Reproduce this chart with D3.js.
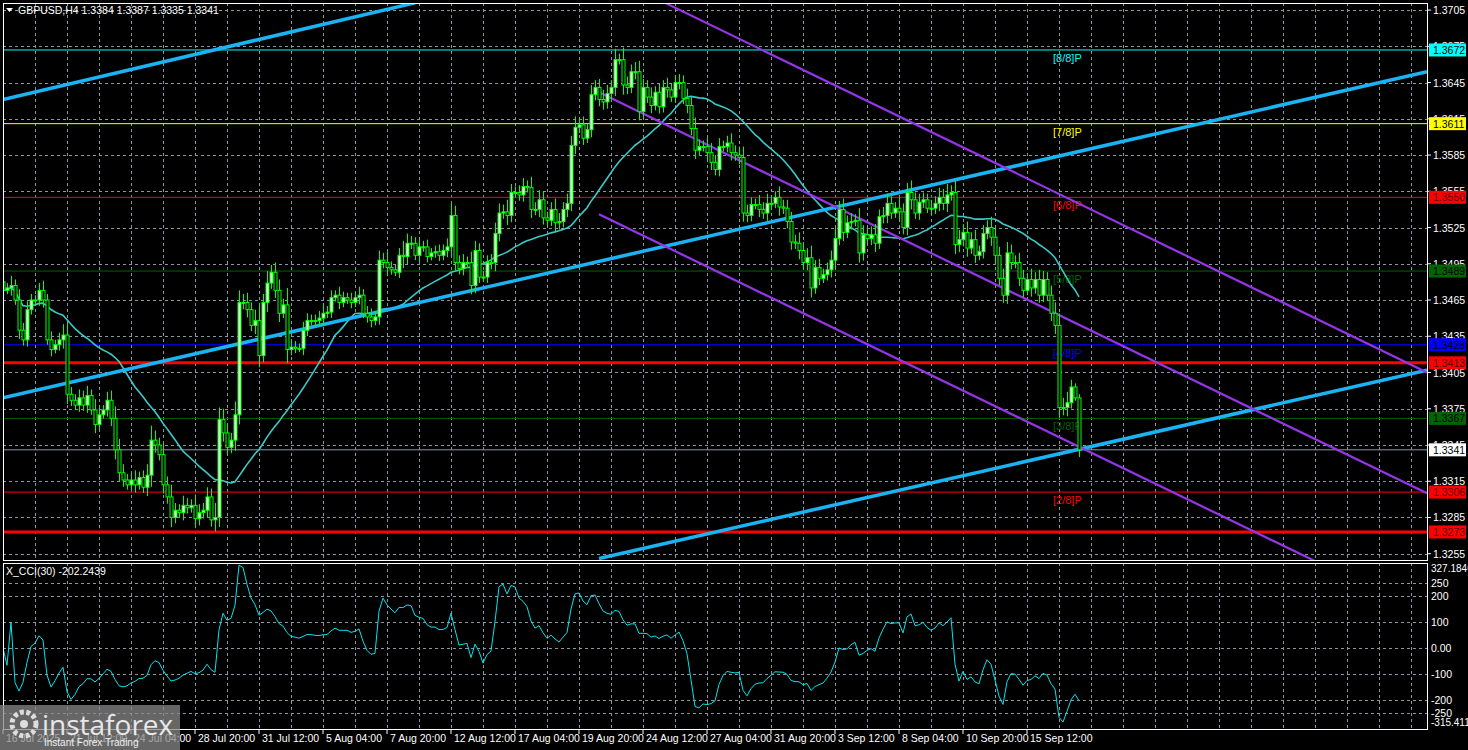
<!DOCTYPE html>
<html>
<head>
<meta charset="utf-8">
<script src="https://cdn.jsdelivr.net/npm/d3@7"></script>
<style>
  body { margin: 0; background: #000; }
  svg { display: block; font-family: "Liberation Sans", Arial, sans-serif; }
</style>
</head>
<body>
<div id="chart"></div>
<script>
// H4 closes (bar 0 = left edge)
const closes = [
  1.3473,1.3475,1.3477,1.3465,1.3440,1.3432,1.3457,1.3465,1.3465,1.3473,
  1.3465,1.3432,1.3424,1.3428,1.3432,1.3436,1.3387,1.3382,1.3378,1.3384,
  1.3378,1.3386,1.3374,1.3362,1.3370,1.3374,1.3382,1.3367,1.3341,1.3322,
  1.3316,1.3312,1.3316,1.3312,1.3318,1.3310,1.3320,1.3349,1.3345,1.3337,
  1.3312,1.3302,1.3285,1.3291,1.3289,1.3295,1.3293,1.3295,1.3284,1.3289,
  1.3291,1.3302,1.3283,1.3285,1.3366,1.3355,1.3343,1.3349,1.3370,1.3463,
  1.3463,1.3457,1.3444,1.3448,1.3419,1.3463,1.3479,1.3488,1.3473,1.3454,
  1.3461,1.3424,1.3426,1.3425,1.3425,1.3440,1.3448,1.3448,1.3448,1.3450,
  1.3454,1.3455,1.3467,1.3469,1.3463,1.3467,1.3465,1.3463,1.3467,1.3469,
  1.3454,1.3451,1.3448,1.3451,1.3498,1.3496,1.3492,1.3490,1.3488,1.3502,
  1.3501,1.3512,1.3512,1.3502,1.3509,1.3509,1.3501,1.3504,1.3505,1.3502,
  1.3506,1.3509,1.3535,1.3496,1.3491,1.3496,1.3496,1.3477,1.3506,1.3484,
  1.3484,1.3496,1.3496,1.3520,1.3537,1.3538,1.3535,1.3554,1.3554,1.3552,
  1.3559,1.3558,1.3540,1.3540,1.3548,1.3533,1.3531,1.3540,1.3529,1.3530,
  1.3540,1.3545,1.3593,1.3608,1.3610,1.3599,1.3606,1.3635,1.3641,1.3631,
  1.3629,1.3636,1.3641,1.3664,1.3664,1.3643,1.3641,1.3654,1.3654,1.3621,
  1.3641,1.3633,1.3626,1.3637,1.3625,1.3641,1.3639,1.3633,1.3645,1.3645,
  1.3632,1.3626,1.3607,1.3589,1.3592,1.3592,1.3587,1.3579,1.3573,1.3592,
  1.3592,1.3595,1.3587,1.3585,1.3583,1.3537,1.3535,1.3544,1.3544,1.3540,
  1.3537,1.3545,1.3545,1.3550,1.3542,1.3541,1.3530,1.3513,1.3512,1.3506,
  1.3496,1.3500,1.3475,1.3492,1.3483,1.3486,1.3490,1.3498,1.3516,1.3540,
  1.3521,1.3529,1.3530,1.3531,1.3504,1.3519,1.3516,1.3519,1.3512,1.3534,
  1.3535,1.3545,1.3537,1.3541,1.3538,1.3525,1.3554,1.3548,1.3537,1.3546,
  1.3548,1.3541,1.3541,1.3545,1.3550,1.3545,1.3552,1.3554,1.3511,1.3515,
  1.3521,1.3508,1.3515,1.3502,1.3505,1.3520,1.3525,1.3517,1.3502,1.3483,
  1.3469,1.3504,1.3496,1.3496,1.3483,1.3473,1.3482,1.3475,1.3482,1.3469,
  1.3482,1.3469,1.3454,1.3444,1.3376,1.3376,1.3380,1.3393,1.3384,1.3341
];
// wick length beyond the body, pips
const wicks = [
  6,4,8,5,9,6,7,5,4,6, 8,5,7,4,6,9,10,6,5,7, 6,8,5,9,6,4,7,8,10,9,
  7,5,6,8,5,6,9,12,8,6, 9,7,10,6,5,8,6,5,9,7, 6,8,7,12,10,9,8,6,11,10,
  7,8,6,9,12,7,10,6,8,9, 5,14,6,5,4,7,6,5,5,6, 8,5,6,4,7,5,4,6,5,7,
  5,6,7,5,8,6,9,5,4,6, 12,8,6,5,7,5,6,4,5,6, 5,7,10,8,6,7,5,9,8,6,
  5,6,7,9,8,6,10,7,5,6, 7,5,9,6,8,7,5,6,9,7, 6,8,8,9,6,7,5,8,6,7,
  8,7,6,9,5,10,7,6,8,9, 7,6,8,5,7,6,8,5,6,7, 6,8,7,9,6,5,7,8,6,7,
  5,6,8,6,7,9,7,6,5,8, 6,8,7,5,9,6,7,8,6,9, 7,8,10,6,7,5,6,8,9,7,
  9,6,7,5,10,8,6,7,9,6, 7,8,6,5,9,7,8,10,6,7, 6,5,7,6,8,7,9,6,10,8,
  7,9,6,8,5,7,6,9,8,7, 8,9,7,6,8,7,5,9,6,8, 7,6,8,9,10,8,9,6,3,4
];
const firstOpen = 1.3480;

const timeLabels = ["16 Jul 2025","21 Jul 12:00","24 Jul 04:00","28 Jul 20:00","31 Jul 12:00",
  "5 Aug 04:00","7 Aug 20:00","12 Aug 12:00","17 Aug 04:00","19 Aug 20:00","24 Aug 12:00",
  "27 Aug 04:00","31 Aug 20:00","3 Sep 12:00","8 Sep 04:00","10 Sep 20:00","15 Sep 12:00"];
const priceTicks = [1.3705,1.3675,1.3645,1.3615,1.3585,1.3555,1.3525,1.3495,1.3465,1.3435,
  1.3405,1.3375,1.3345,1.3315,1.3285,1.3255];
const cciTicks = [250,200,100,0,-100,-200,-250];

// murrey levels: price, colour, label, line width, box text colour
const levels = [
  {p:1.3672, c:"#00ffff", lab:"[8/8]P", w:1, t:"#000"},
  {p:1.3611, c:"#ffff00", lab:"[7/8]P", w:1, t:"#000"},
  {p:1.3550, c:"#ff0000", lab:"[6/8]P", w:1, t:"#500"},
  {p:1.3489, c:"#006400", lab:"[5/8]P", w:1, t:"#000"},
  {p:1.3428, c:"#0000ff", lab:"[4/8]P", w:1, t:"#000"},
  {p:1.3413, c:"#ff0000", lab:null, w:3, t:"#500"},
  {p:1.3367, c:"#006400", lab:"[3/8]P", w:1, t:"#000"},
  {p:1.3306, c:"#ff0000", lab:"[2/8]P", w:1, t:"#500"},
  {p:1.3273, c:"#ff0000", lab:null, w:3, t:"#500"}
];
// channel lines as [bar, price] pairs
const blueLines = [[[0,1.3384],[356,1.3654]],[[0,1.3631],[103,1.3711]],[[149,1.3251],[356,1.3407]]];
const purpleLines = [[[165.5,1.3711],[356,1.3405]],[[149,1.3637],[356,1.3305]],[[149,1.3536],[356,1.3204]]];

const W = 1468, H = 750;
const L = 3, R = 1427, mainTop = 3, mainBot = 560, cciTop = 563, cciBot = 729;

const bars = closes.map((c, i) => {
  const o = i ? closes[i-1] : firstOpen;
  const w = wicks[i] / 10000;
  return {i, o, c, h: Math.max(o, c) + w, l: Math.min(o, c) - w * 0.8};
});
bars[bars.length-1].h = 1.3387; bars[bars.length-1].l = 1.3335;

const x = d3.scaleLinear().domain([0, 1]).range([3, 7]);
const y = d3.scaleLinear().domain([1.3255, 1.3705]).range([553.7, 10.1]);
const yc = d3.scaleLinear().domain([-315.4116, 327.1846]).range([729.5, 563.5]);

const svg = d3.select("#chart").append("svg").attr("width", W).attr("height", H)
  .style("background", "#000");

svg.append("clipPath").attr("id", "cm").append("rect")
  .attr("x", L).attr("y", mainTop).attr("width", R - L).attr("height", mainBot - mainTop);
svg.append("clipPath").attr("id", "cc").append("rect")
  .attr("x", L).attr("y", cciTop).attr("width", R - L).attr("height", cciBot - cciTop);

// grids
const grid = svg.append("g").attr("stroke", "#8a96a6").attr("stroke-dasharray", "3,3").attr("stroke-width", 1);
for (let i = 8; i * 4 + 3 < R; i += 8) {
  const gx = Math.round(x(i)) + 0.5;
  grid.append("line").attr("x1", gx).attr("x2", gx).attr("y1", mainTop).attr("y2", mainBot);
  grid.append("line").attr("x1", gx).attr("x2", gx).attr("y1", cciTop).attr("y2", cciBot);
}
priceTicks.forEach(p => {
  const gy = Math.round(y(p)) + 0.5;
  grid.append("line").attr("x1", L).attr("x2", R).attr("y1", gy).attr("y2", gy);
});
cciTicks.forEach(v => {
  const gy = Math.round(yc(v)) + 0.5;
  grid.append("line").attr("x1", L).attr("x2", R).attr("y1", gy).attr("y2", gy);
});

const main = svg.append("g").attr("clip-path", "url(#cm)");

// levels
levels.forEach(d => {
  main.append("line").attr("x1", L).attr("x2", R).attr("y1", y(d.p)).attr("y2", y(d.p))
    .attr("stroke", d.c).attr("stroke-width", d.w);
  if (d.lab) main.append("text").attr("x", 1053).attr("y", y(d.p) + 12)
    .attr("fill", d.c).attr("font-size", 11).text(d.lab);
});
// current price line
main.append("line").attr("x1", L).attr("x2", R).attr("y1", y(1.3341)).attr("y2", y(1.3341))
  .attr("stroke", "#8899aa").attr("stroke-width", 1);

// moving average (SMA 30 of closes)
const maPer = 30;
const ma = bars.map((b, i) => {
  const s = closes.slice(Math.max(0, i - maPer + 1), i + 1);
  return [i, d3.mean(s)];
});
main.append("path").datum(ma)
  .attr("d", d3.line().x(d => x(d[0])).y(d => y(d[1])))
  .attr("fill", "none").attr("stroke", "#3cc8c8").attr("stroke-width", 1.6);

// channels
const seg = d3.line().x(d => x(d[0])).y(d => y(d[1]));
blueLines.forEach(l => main.append("path").attr("d", seg(l))
  .attr("stroke", "#1ab4f5").attr("stroke-width", 3.5).attr("fill", "none"));
purpleLines.forEach(l => main.append("path").attr("d", seg(l))
  .attr("stroke", "#9535e8").attr("stroke-width", 2.2).attr("fill", "none"));

// candles
const cg = main.append("g");
cg.selectAll("line.w").data(bars).join("line")
  .attr("x1", d => x(d.i) + 0.5).attr("x2", d => x(d.i) + 0.5)
  .attr("y1", d => y(d.h)).attr("y2", d => y(d.l))
  .attr("stroke", "#00ff00").attr("stroke-width", 1);
cg.selectAll("rect").data(bars).join("rect")
  .attr("x", d => x(d.i) - 1)
  .attr("y", d => y(Math.max(d.o, d.c)))
  .attr("width", 3)
  .attr("height", d => Math.max(1, Math.abs(y(d.o) - y(d.c))))
  .attr("fill", d => d.c >= d.o ? "#e6ffe0" : "#000")
  .attr("stroke", "#00ff00").attr("stroke-width", 1);

// CCI(30) from typical price
const per = 30;
const tp = bars.map(b => (b.h + b.l + b.c) / 3);
const cci = tp.map((t, i) => {
  const s = tp.slice(Math.max(0, i - per + 1), i + 1);
  const m = d3.mean(s);
  const md = d3.mean(s, v => Math.abs(v - m)) || 1e-9;
  return [i, Math.max(-315, Math.min(327, (t - m) / (0.015 * md)))];
});
svg.append("g").attr("clip-path", "url(#cc)").append("path").datum(cci)
  .attr("d", d3.line().x(d => x(d[0])).y(d => yc(d[1])))
  .attr("fill", "none").attr("stroke", "#00e5ee").attr("stroke-width", 1);

// frames
svg.append("rect").attr("x", L + 0.5).attr("y", mainTop + 0.5).attr("width", R - L).attr("height", mainBot - mainTop)
  .attr("fill", "none").attr("stroke", "#fff");
svg.append("rect").attr("x", L + 0.5).attr("y", cciTop + 0.5).attr("width", R - L).attr("height", cciBot - cciTop)
  .attr("fill", "none").attr("stroke", "#fff");

// price axis
const ax = svg.append("g").attr("fill", "#fff").attr("font-size", 10.5);
priceTicks.forEach(p => {
  ax.append("line").attr("x1", R).attr("x2", R + 4).attr("y1", y(p)).attr("y2", y(p)).attr("stroke", "#fff");
  ax.append("text").attr("x", 1433).attr("y", y(p) + 4).text(p.toFixed(4));
});
levels.concat([{p:1.3341, c:"#ffffff", t:"#000"}]).forEach(d => {
  ax.append("rect").attr("x", R + 2).attr("y", y(d.p) - 6.5).attr("width", 37).attr("height", 13).attr("fill", d.c);
  ax.append("text").attr("x", 1433).attr("y", y(d.p) + 4).attr("fill", d.t).text(d.p.toFixed(4));
});
cciTicks.forEach(v => {
  ax.append("text").attr("x", 1431).attr("y", yc(v) + 4).text(v === 0 ? "0.00" : v);
});
ax.append("text").attr("x", 1431).attr("y", 572).attr("font-size", 10).text("327.1846");
ax.append("text").attr("x", 1431).attr("y", 726).attr("font-size", 10).text("-315.4116");

// time axis
timeLabels.forEach((t, k) => {
  const tx = x(k * 16);
  svg.append("line").attr("x1", tx).attr("x2", tx).attr("y1", cciBot).attr("y2", cciBot + 5).attr("stroke", "#fff");
  svg.append("text").attr("x", tx + 3).attr("y", 742).attr("fill", "#fff").attr("font-size", 10.5).text(t);
});

// titles
svg.append("path").attr("d", "M6,8 L13,8 L9.5,12 Z").attr("fill", "#fff");
svg.append("text").attr("x", 18).attr("y", 14).attr("fill", "#fff").attr("font-size", 10.5)
  .text("GBPUSD,H4  1.3384 1.3387 1.3335 1.3341");
svg.append("text").attr("x", 6).attr("y", 575).attr("fill", "#fff").attr("font-size", 10.5)
  .text("X_CCI(30) -202.2439");

// watermark
const wm = svg.append("g");
wm.append("rect").attr("x", 0).attr("y", 705).attr("width", 180).attr("height", 45).attr("fill", "#888").attr("opacity", 0.75);
wm.append("circle").attr("cx", 24).attr("cy", 724).attr("r", 12).attr("fill", "none").attr("stroke", "#ddd").attr("stroke-width", 5).attr("stroke-dasharray", "4,2.5");
wm.append("circle").attr("cx", 24).attr("cy", 724).attr("r", 4).attr("fill", "#ddd");
wm.append("text").attr("x", 42).attr("y", 735).attr("fill", "#e8e8e8").attr("font-size", 28)
  .attr("font-family", "Open Sans, sans-serif").text("instaforex");
wm.append("text").attr("x", 44).attr("y", 746).attr("fill", "#eee").attr("font-size", 10).text("Instant Forex Trading");
</script>
</body>
</html>
